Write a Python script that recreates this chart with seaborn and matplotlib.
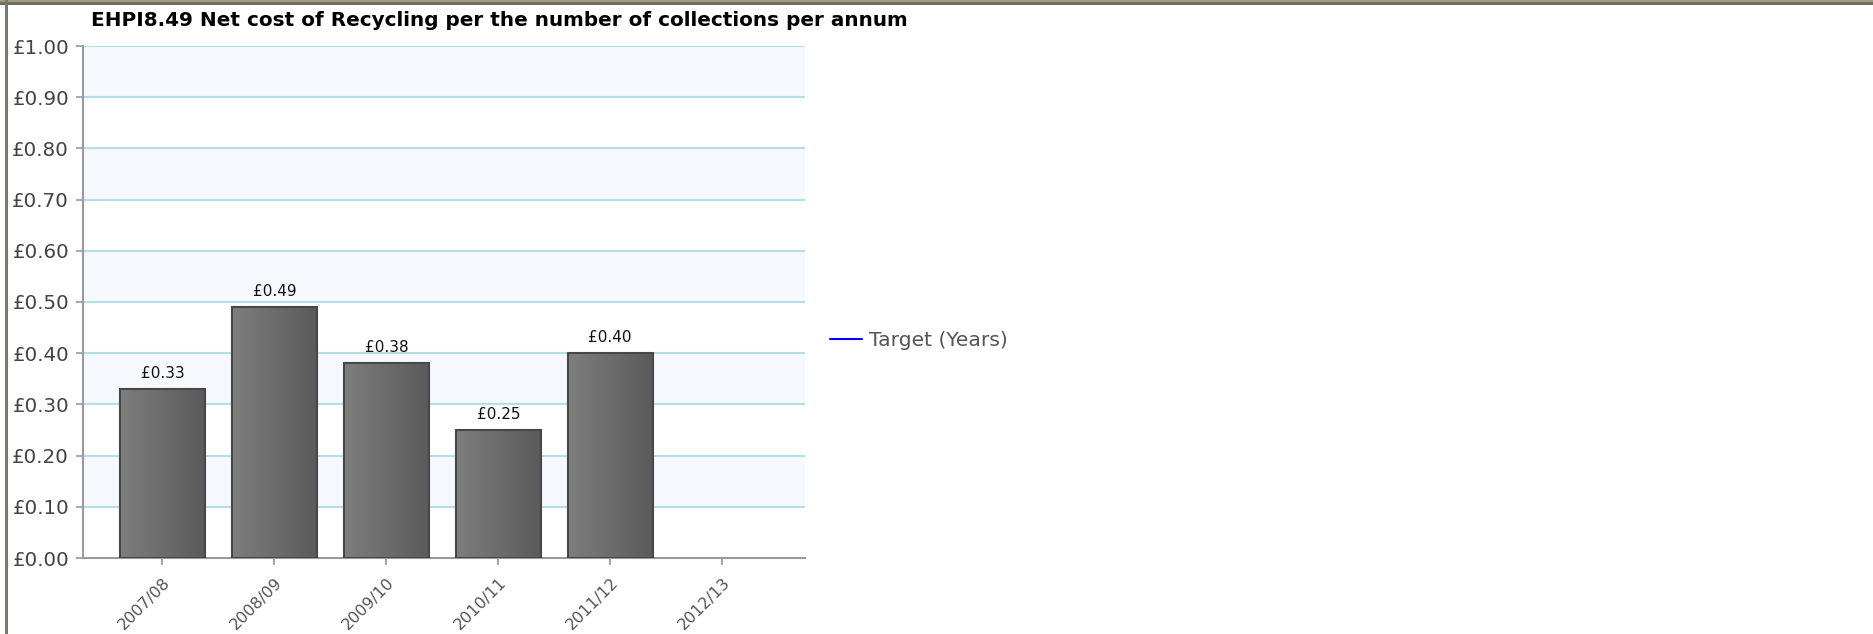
import numpy as np
import pandas as pd
import seaborn as sns
import matplotlib.pyplot as plt
from matplotlib.patches import Rectangle
from matplotlib.ticker import FuncFormatter, MultipleLocator

# chart data
years = ["2007/08", "2008/09", "2009/10", "2010/11", "2011/12", "2012/13"]
cost_years = ["2007/08", "2008/09", "2009/10", "2010/11", "2011/12"]
cost = [0.33, 0.49, 0.38, 0.25, 0.40]
title = "EHPI8.49 Net cost of Recycling per the number of collections per annum"
legend_label = "Target (Years)"

df = pd.DataFrame({"year": cost_years, "cost": cost})

sns.set_theme(style="white")
plt.rcParams["font.family"] = ["DejaVu Sans"]

W, H = 1874, 634
fig = plt.figure(figsize=(W / 100, H / 100), dpi=100)
ax = fig.add_axes([83 / W, 1 - 558 / H, (805 - 83) / W, (558 - 46) / H])

# alternating background bands + grid lines
for lo in np.arange(0.1, 1.0, 0.2):
    ax.axhspan(lo, lo + 0.1, color="#f6f8fe", zorder=0, lw=0)
for v in np.arange(0.1, 1.01, 0.1):
    ax.axhline(v, color="#b5dfe8", lw=1.5, zorder=1)

sns.barplot(data=df, x="year", y="cost", order=years, width=0.76,
            color="#6a6a6a", edgecolor="#474747", linewidth=1.5, ax=ax, zorder=3)

# horizontal grey gradient inside each bar
grad = np.linspace(0, 1, 256).reshape(1, -1)
cmap = plt.matplotlib.colors.LinearSegmentedColormap.from_list("g", ["#7e7e7e", "#5a5a5a"])
bars = ax.containers[0]
for p in bars:
    x0, y0 = p.get_x(), p.get_y()
    w, h = p.get_width(), p.get_height()
    im = ax.imshow(grad, extent=(x0, x0 + w, y0, y0 + h), aspect="auto",
                   cmap=cmap, zorder=2.5, interpolation="bicubic")
    im.set_clip_path(p)
    p.set_facecolor("none")

ax.bar_label(bars, labels=[f"£{v:.2f}" for v in cost], padding=6,
             fontsize=11, color="#111111")

ax.set_xlim(-0.71, 5.74)
ax.set_ylim(0, 1.0)
ax.yaxis.set_major_locator(MultipleLocator(0.1))
ax.yaxis.set_major_formatter(FuncFormatter(lambda v, _: f"£{v:.2f}"))
ax.set_xlabel("")
ax.set_ylabel("")

for s in ["top", "right"]:
    ax.spines[s].set_visible(False)
for s in ["left", "bottom"]:
    ax.spines[s].set_color("#9a9a9a")
    ax.spines[s].set_linewidth(1.5)

ax.tick_params(axis="y", left=True, length=5, width=1.2, color="#9a9a9a",
               labelsize=14.3, labelcolor="#444444", pad=5)
ax.tick_params(axis="x", bottom=True, length=5, width=1.2, color="#9a9a9a",
               labelsize=11.5, labelcolor="#555555", pad=7)
for lab in ax.get_xticklabels():
    lab.set_rotation(45)
    lab.set_ha("right")
    lab.set_va("top")
    lab.set_rotation_mode("anchor")

fig.text(91 / W, 1 - 21 / H, title, fontsize=14.4, fontweight="bold",
         color="#000000", ha="left", va="center")

# legend with an empty target series
ax.plot([], [], color="#0000ff", lw=1.5, label=legend_label)
leg = fig.legend(handles=ax.get_lines()[-1:], loc="center left",
                 bbox_to_anchor=(830 / W, 1 - 341 / H), frameon=False,
                 fontsize=14.6, handlelength=1.6, handletextpad=0.3,
                 borderpad=0, borderaxespad=0)
for t in leg.get_texts():
    t.set_color("#555555")

# page frame: top band and left rule
fig.add_artist(Rectangle((0, 1 - 2 / H), 1, 2 / H, transform=fig.transFigure,
                         color="#a39d7c", lw=0))
fig.add_artist(Rectangle((0, 1 - 5 / H), 1, 3 / H, transform=fig.transFigure,
                         color="#6e6d62", lw=0))
fig.add_artist(Rectangle((5 / W, 0), 3 / W, 1, transform=fig.transFigure,
                         color="#7a796e", lw=0))

fig.savefig("out.png", dpi=100)
